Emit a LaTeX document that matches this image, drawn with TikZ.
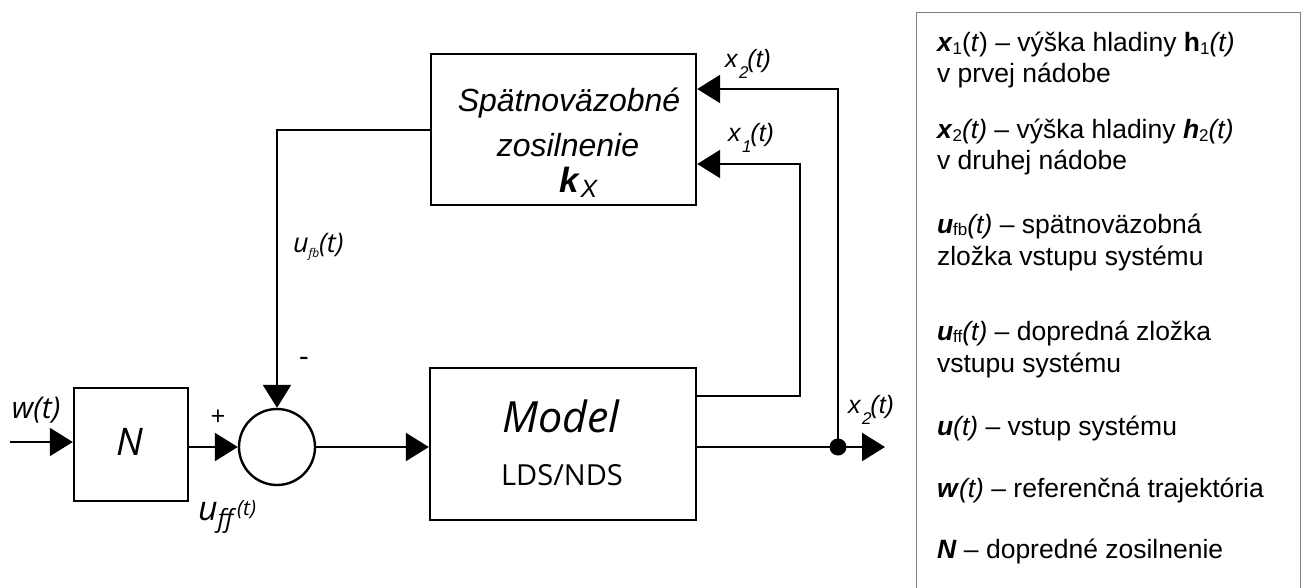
\documentclass[tikz,border=0pt]{standalone}
\usepackage{fontspec}
\setmainfont{Liberation Sans}
\newfontfamily\myr{Open Sans}
\usetikzlibrary{arrows.meta}
\newcommand\fs[1]{\fontsize{#1}{#1}\selectfont}
\newcommand\lsub[1]{\raisebox{-2.5pt}{\fs{17}#1}}
\newcommand\xlab[1]{\textit{x\kern1.5pt\raisebox{-11pt}{\fs{17}#1}\kern-1pt(t)}}
\tikzset{
  blk/.style={draw, rectangle, line width=2.4pt},
  arr/.style={-{Triangle[length=23pt,width=28pt]}},
  lab/.style={anchor=base west, inner sep=0pt, outer sep=0pt},
  leg/.style={anchor=base west, inner sep=0pt, outer sep=0pt, font=\fs{26.5}},
}
\begin{document}
\begin{tikzpicture}[x=1pt,y=-1pt,line width=2.4pt]
\useasboundingbox (0,0) rectangle (1308,588);
% blocks
\node[blk, minimum width=114pt, minimum height=113pt] (N) at (131,444.5) {};
\node[draw, circle, line width=2.4pt, minimum size=76pt, inner sep=0pt] (S) at (277,447) {};
\node[blk, minimum width=266pt, minimum height=152pt] (M) at (563,444) {};
\node[blk, minimum width=265pt, minimum height=151pt] (K) at (563.5,129.5) {};
% coordinates
\coordinate (win) at (10,442);
\coordinate (dot) at (838,447);
\coordinate (out) at (885,447);
\coordinate (x1r) at (800,396);
\coordinate (x1t) at (800,164);
\coordinate (x2t) at (838,89);
\coordinate (fb) at (277,130);
% connectors
\draw[arr] (win) -- (win -| N.west);
\draw[arr] (N.east |- S) -- (S.west);
\draw[arr] (S.east) -- (M.west |- S);
\draw (M.east |- dot) -- (dot);
\draw[arr] (dot) -- (out);
\fill (dot) circle (8.5pt);
\draw[arr] (M.east |- x1r) -- (x1r) -- (x1t) -- (K.east |- x1t);
\draw[arr] (dot) -- (x2t) -- (K.east |- x2t);
\draw[arr] (K.west |- fb) -- (fb) -- (S.north);
% block texts
\node[anchor=base, inner sep=0pt] (ktxt1) at (569,112) {\fs{32}\textit{Spätnoväzobné}};
\node[anchor=base, inner sep=0pt] (ktxt2) at (568,157) {\fs{32}\textit{zosilnenie}};
\node[anchor=base, inner sep=0pt] (ktxt3) at (579,193) {\fs{35}\textbf{\textit{k}}\raisebox{-5pt}{\fs{25}\textit{X}}};
\node[anchor=base, inner sep=0pt] (mtxt1) at (561,432) {\myr\itshape\fs{43}Model};
\node[anchor=base, inner sep=0pt] (mtxt2) at (562,485) {\myr\fs{29}LDS/NDS};
\node[anchor=base, inner sep=0pt] (ntxt) at (130,455) {\myr\itshape\fs{38}N};
% signal labels
\node[lab] (lw) at (12,418) {\myr\itshape\fs{30}w(t)};
\node[inner sep=0pt] (lplus) at (218,418) {\myr\fs{26}+};
\node[inner sep=0pt] (lminus) at (304,362) {\myr\fs{30}-};
\node[lab] (luff) at (198,520) {\myr\itshape{\fs{34}u}\raisebox{-7pt}{\fs{25}ff}\kern4pt\raisebox{5pt}{\fs{21}(t)}};
\node[lab] (lufb) at (293,252) {\myr\itshape{\fs{27}u}\raisebox{-5pt}{\fs{12}fb}{\fs{27}(t)}};
\node[lab, font=\fs{25}] (lx2a) at (725,68) {\xlab{2}};
\node[lab, font=\fs{25}] (lx1) at (728,142) {\xlab{1}};
\node[lab, font=\fs{25}] (lx2b) at (848,413) {\xlab{2}};
% legend
\draw[line width=1pt, gray] (916,588) -- (916,13) -- (1300,13) -- (1300,588);
\node[leg] (g1) at (937,52) {\textbf{\textit{x}}\lsub{1}(\textit{t}) – výška hladiny \textbf{h}\lsub{1}\textit{(t)}};
\node[leg] (g2) at (937,83) {v prvej nádobe};
\node[leg] (g3) at (937,139) {\textbf{\textit{x}}\lsub{2}\textit{(t)} – výška hladiny \textbf{\textit{h}}\lsub{2}\textit{(t)}};
\node[leg] (g4) at (937,170) {v druhej nádobe};
\node[leg] (g5) at (937,233) {\textbf{\textit{u}}\lsub{fb}\textit{(t)} – spätnoväzobná};
\node[leg] (g6) at (937,265) {zložka vstupu systému};
\node[leg] (g7) at (937,340) {\textbf{\textit{u}}\lsub{ff}\textit{(t)} – dopredná zložka};
\node[leg] (g8) at (937,372) {vstupu systému};
\node[leg] (g9) at (937,435) {\textbf{\textit{u}}\textit{(t)} – vstup systému};
\node[leg] (g10) at (937,497) {\textbf{\textit{w}}\textit{(t)} – referenčná trajektória};
\node[leg] (g11) at (937,558) {\textbf{\textit{N}} – dopredné zosilnenie};
\end{tikzpicture}
\end{document}
